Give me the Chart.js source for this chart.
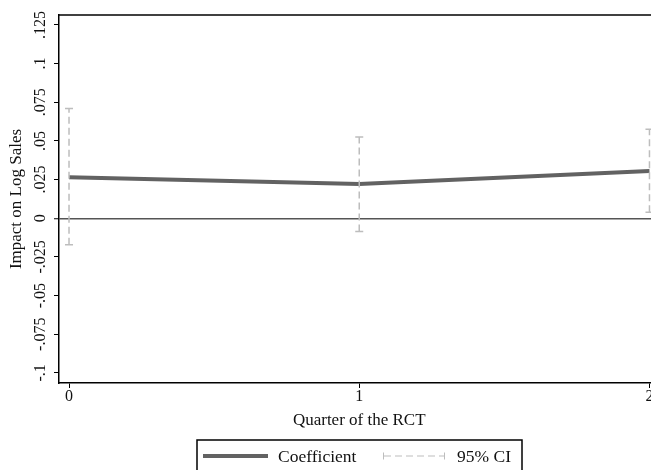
<!DOCTYPE html>
<html><head><meta charset="utf-8">
<script src="https://cdn.jsdelivr.net/npm/chart.js@4/dist/chart.umd.min.js"></script>
<style>html,body{margin:0;padding:0;background:#fff;overflow:hidden;width:651px;height:470px}canvas{display:block}</style>
</head><body>
<canvas id="c" width="657" height="470"></canvas>
<script>
const quarters = [0, 1, 2];
const coefficient = [0.0265, 0.0221, 0.0305];
const ciLower = [-0.0172, -0.0086, 0.0039];
const ciUpper = [0.0710, 0.0526, 0.0576];
const yTickValues = [-0.1, -0.075, -0.05, -0.025, 0, 0.025, 0.05, 0.075, 0.1, 0.125];
const yTickLabels = ['-.1', '-.075', '-.05', '-.025', '0', '.025', '.05', '.075', '.1', '.125'];
const xTickLabels = ['0', '1', '2'];
const xTitle = 'Quarter of the RCT';
const yTitle = 'Impact on Log Sales';
const legendLabels = ['Coefficient', '95% CI'];

const FONT = '"Liberation Serif", "DejaVu Serif", serif';
const COEF_COLOR = '#626262';
const CI_COLOR = '#bdbdbd';

const ciDatasets = quarters.map((q, i) => ({
  label: legendLabels[1],
  data: [{x: q, y: ciLower[i]}, {x: q, y: ciUpper[i]}],
  borderColor: CI_COLOR,
  borderWidth: 1.5,
  borderDash: [7, 4],
  pointStyle: 'line',
  pointRadius: 4,
  pointBorderColor: CI_COLOR,
  pointBorderWidth: 1.5,
  fill: false,
  tension: 0
}));
const coefDataset = {
  label: legendLabels[0],
  data: quarters.map((q, i) => ({x: q, y: coefficient[i]})),
  borderColor: COEF_COLOR,
  borderWidth: 4,
  pointRadius: 0,
  fill: false,
  tension: 0
};

const textPlugin = {
  id: 'textPlugin',
  afterDraw(chart) {
    const ctx = chart.ctx;
    const xs = chart.scales.x, ys = chart.scales.y;
    const ca = chart.chartArea;
    ctx.save();
    // top frame line
    ctx.strokeStyle = '#000';
    ctx.lineWidth = 1.5;
    ctx.beginPath();
    ctx.moveTo(ca.left, ca.top);
    ctx.lineTo(chart.width + 2, ca.top);
    ctx.stroke();

    ctx.fillStyle = '#111';
    // y tick labels (rotated)
    ctx.font = '16px ' + FONT;
    ctx.textAlign = 'center';
    ctx.textBaseline = 'middle';
    yTickValues.forEach((v, i) => {
      const py = ys.getPixelForValue(v);
      ctx.save();
      ctx.translate(41, py);
      ctx.rotate(-Math.PI / 2);
      ctx.fillText(yTickLabels[i], 0, 0);
      ctx.restore();
    });
    // x tick labels
    quarters.forEach((q, i) => {
      ctx.fillText(xTickLabels[i], xs.getPixelForValue(q), 397);
    });
    // axis titles
    ctx.font = '17px ' + FONT;
    ctx.fillText(xTitle, xs.getPixelForValue(1), 421);
    ctx.save();
    ctx.translate(17, (ca.top + ca.bottom) / 2);
    ctx.rotate(-Math.PI / 2);
    ctx.fillText(yTitle, 0, 0);
    ctx.restore();

    // legend
    ctx.strokeStyle = '#000';
    ctx.lineWidth = 1.5;
    ctx.strokeRect(197, 440, 325, 40);
    const ly = 456;
    ctx.strokeStyle = COEF_COLOR;
    ctx.lineWidth = 4;
    ctx.beginPath(); ctx.moveTo(203, ly); ctx.lineTo(268, ly); ctx.stroke();
    ctx.strokeStyle = CI_COLOR;
    ctx.lineWidth = 1;
    ctx.setLineDash([7, 4]);
    ctx.beginPath(); ctx.moveTo(384, ly); ctx.lineTo(445, ly); ctx.stroke();
    ctx.setLineDash([]);
    ctx.beginPath();
    ctx.moveTo(383.5, ly - 3.5); ctx.lineTo(383.5, ly + 3.5);
    ctx.moveTo(444.5, ly - 3.5); ctx.lineTo(444.5, ly + 3.5);
    ctx.stroke();
    ctx.fillStyle = '#111';
    ctx.font = '17.5px ' + FONT;
    ctx.textAlign = 'left';
    ctx.fillText(legendLabels[0], 278, ly + 1);
    ctx.fillText(legendLabels[1], 457, ly + 1);
    ctx.restore();
  }
};

new Chart(document.getElementById('c'), {
  type: 'line',
  data: { datasets: [...ciDatasets, coefDataset] },
  options: {
    responsive: false,
    animation: false,
    devicePixelRatio: 1,
    layout: { padding: { top: 15, right: 0, left: 0, bottom: 0 } },
    plugins: { legend: { display: false }, tooltip: { enabled: false } },
    scales: {
      x: {
        type: 'linear',
        min: -0.0345,
        max: 2.007,
        afterBuildTicks: s => { s.ticks = quarters.map(v => ({value: v})); },
        afterFit: s => { s.height = 87; s.paddingLeft = 0; s.paddingRight = 0; },
        ticks: { display: false },
        grid: { drawOnChartArea: false, drawTicks: true, tickLength: 5, tickColor: '#000', tickWidth: 1 },
        border: { display: true, color: '#000', width: 1.5 }
      },
      y: {
        type: 'linear',
        min: -0.1065,
        max: 0.1314,
        afterBuildTicks: s => { s.ticks = yTickValues.map(v => ({value: v})); },
        afterFit: s => { s.width = 59; s.paddingTop = 0; s.paddingBottom = 0; },
        ticks: { display: false },
        grid: {
          drawOnChartArea: true,
          drawTicks: true,
          tickLength: 5,
          tickColor: '#000',
          tickWidth: 1,
          color: c => (c.tick && c.tick.value === 0) ? '#555' : 'rgba(0,0,0,0)',
          lineWidth: c => (c.tick && c.tick.value === 0) ? 1.5 : 1
        },
        border: { display: true, color: '#000', width: 1.5 }
      }
    }
  },
  plugins: [textPlugin]
});
</script>
</body></html>
